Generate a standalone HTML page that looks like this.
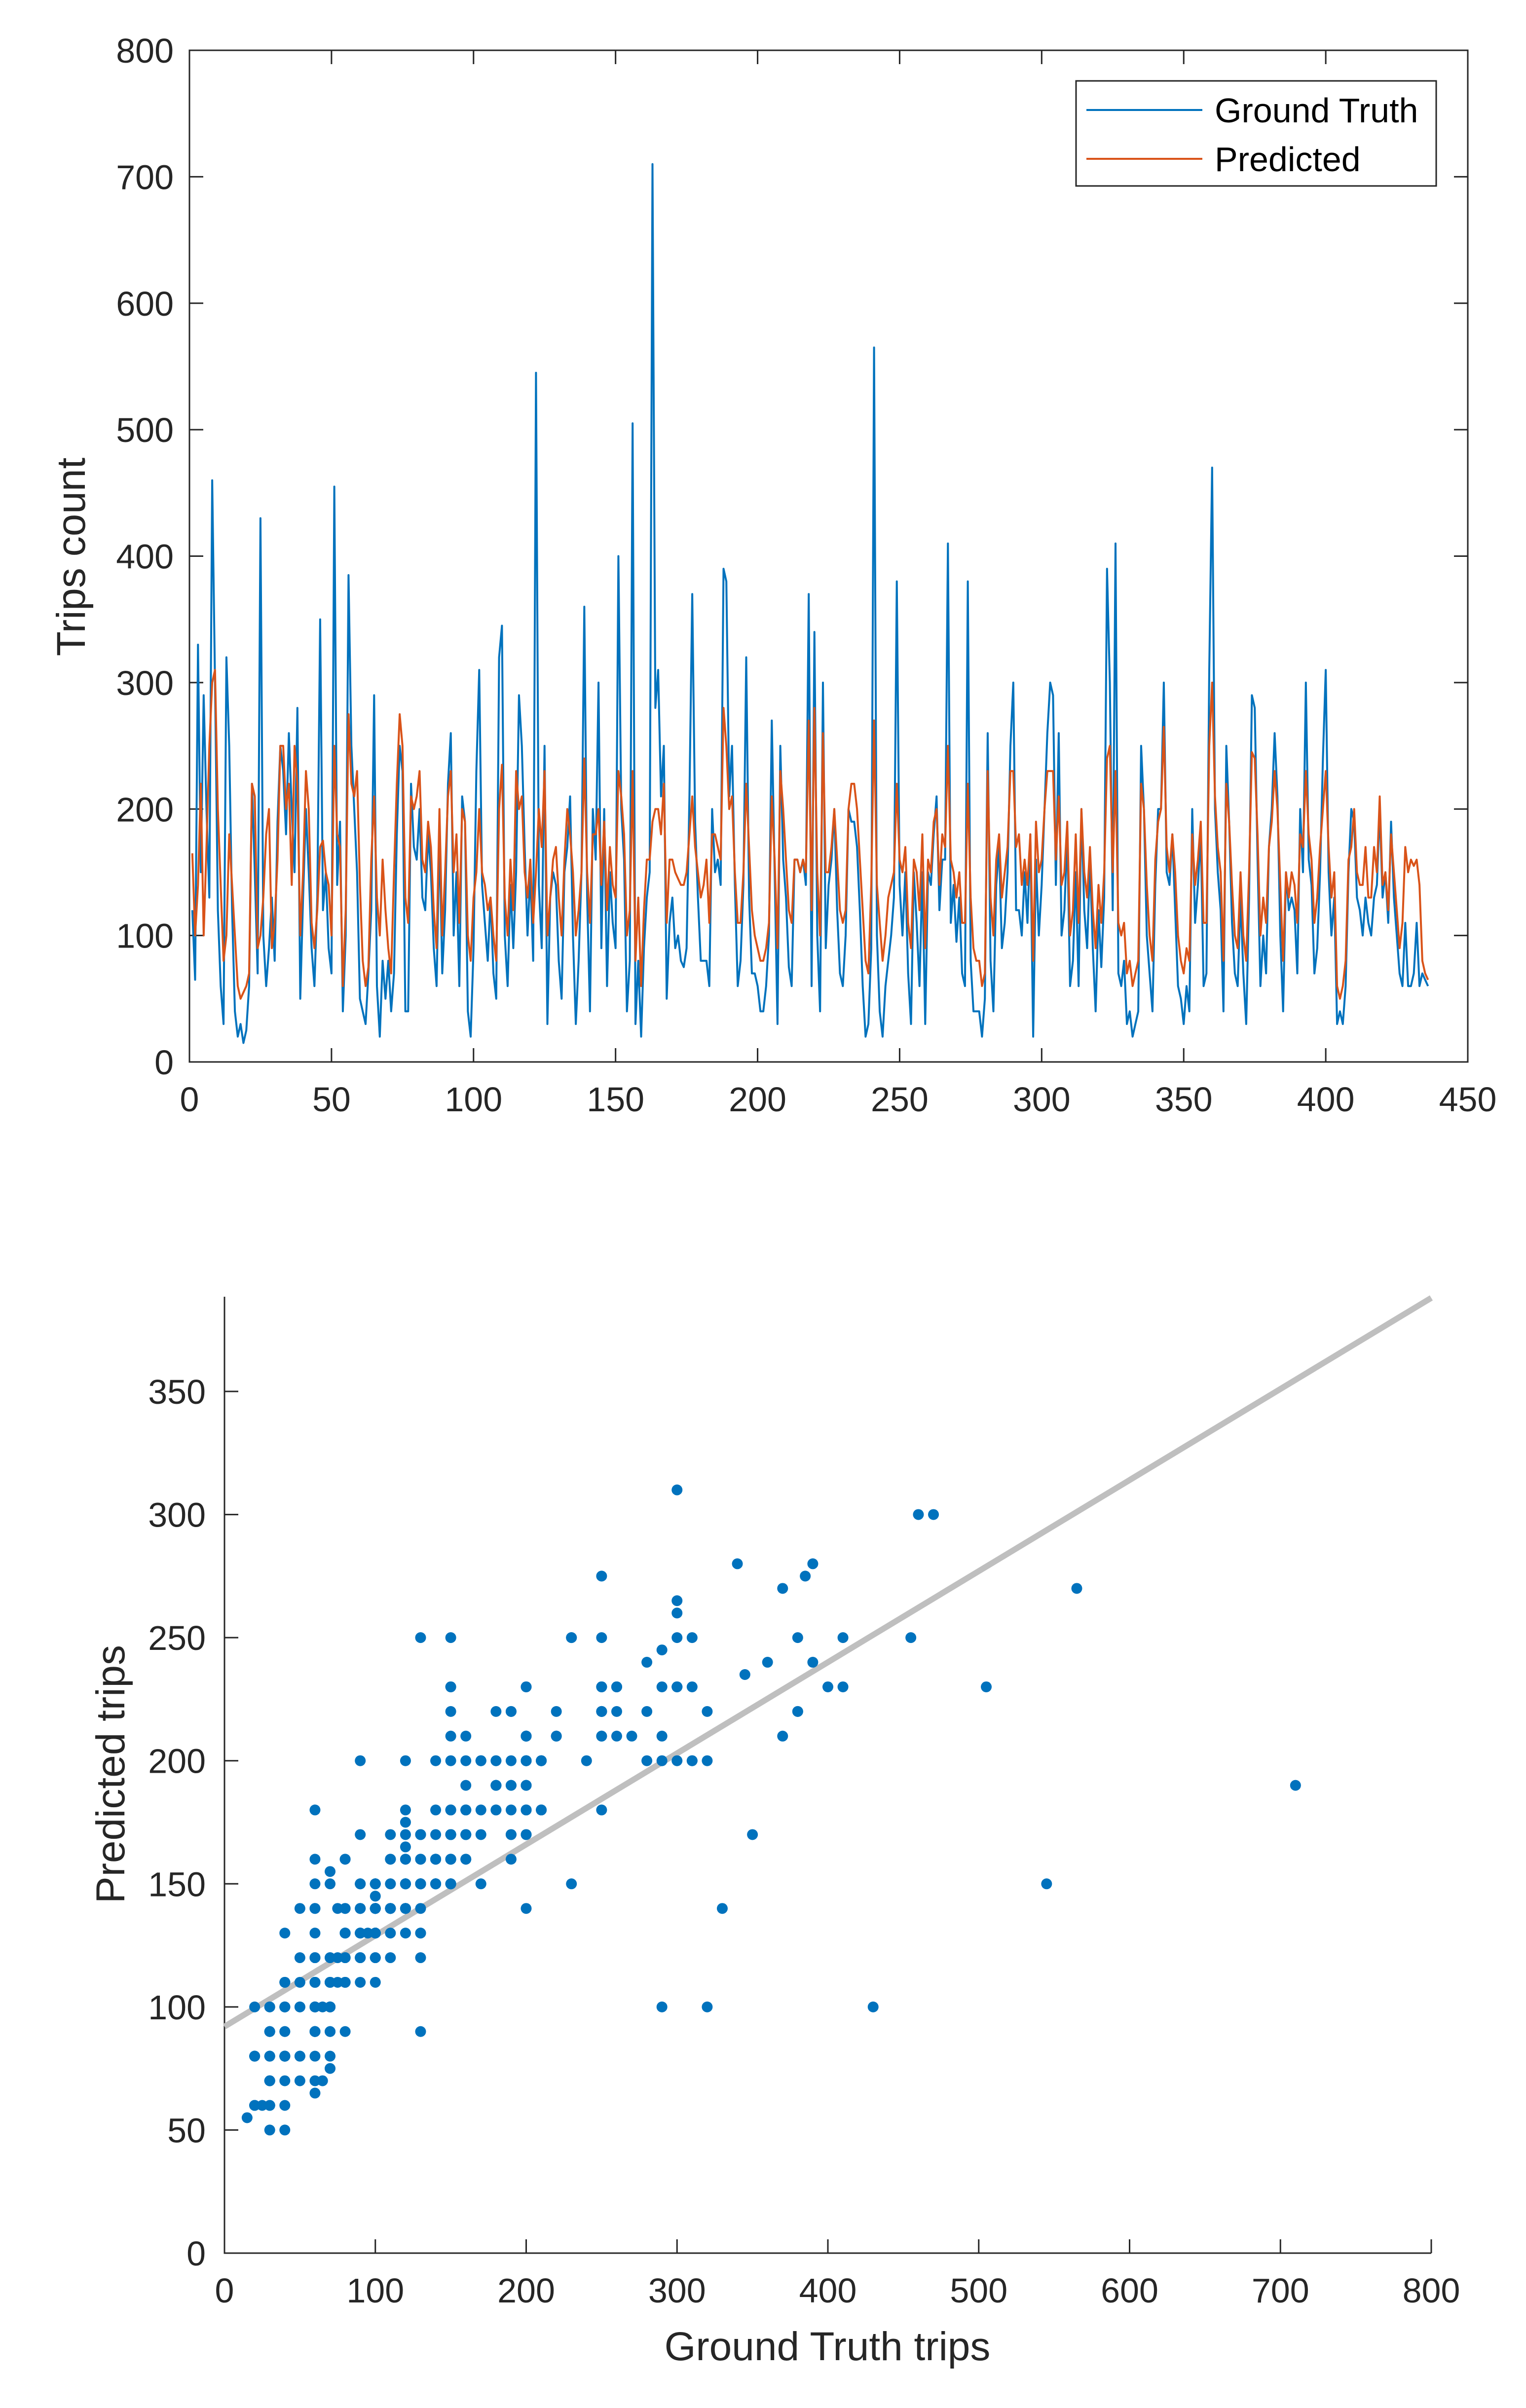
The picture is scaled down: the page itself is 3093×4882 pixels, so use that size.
<!DOCTYPE html>
<html><head><meta charset="utf-8"><style>
html,body{margin:0;padding:0;background:#fff;}
svg{display:block;font-family:"Liberation Sans",Arial,sans-serif;}
</style></head><body>
<svg id="c" width="3093" height="4882" viewBox="0 0 3093 4882" xmlns="http://www.w3.org/2000/svg"></svg>
<script>
const groundTruth=[120,65,330,150,290,200,130,460,300,120,60,30,320,250,120,40,20,30,15,25,60,220,150,70,430,100,60,90,130,80,190,250,230,180,260,200,150,280,50,130,200,150,90,60,130,350,120,150,90,70,455,140,190,40,100,385,250,200,150,50,40,30,70,120,290,60,20,80,50,80,40,70,180,250,230,40,40,220,170,160,200,130,120,180,150,90,60,180,70,120,220,260,100,150,60,210,190,40,20,90,230,310,140,110,80,130,70,50,320,345,100,60,140,90,150,290,250,170,100,150,80,545,140,90,250,30,130,150,140,80,50,150,170,210,100,30,80,150,360,130,40,200,160,300,90,200,60,150,110,90,400,200,160,40,80,505,30,80,20,90,130,150,710,280,310,210,250,50,110,130,90,100,80,75,90,210,370,190,130,80,80,80,60,200,150,160,140,390,380,210,250,140,60,80,140,320,130,70,70,60,40,40,60,100,270,150,30,250,160,130,75,60,160,160,150,160,140,370,60,340,100,40,300,90,140,160,200,120,70,60,100,200,190,190,170,120,60,20,30,90,565,100,40,20,60,80,100,130,380,140,100,150,70,30,150,110,60,150,30,150,140,180,210,120,160,160,410,110,140,95,130,70,60,380,80,40,40,40,20,50,260,80,40,140,170,90,110,150,250,300,120,120,100,150,110,180,20,160,100,140,200,260,300,290,140,260,100,120,180,60,80,150,60,200,120,90,160,90,40,120,75,130,390,300,120,410,70,60,80,30,40,20,30,40,250,200,100,70,40,140,200,200,300,150,140,180,120,60,50,30,60,40,200,110,140,180,60,70,310,470,200,150,120,40,250,190,110,70,60,130,70,30,130,290,280,160,60,100,70,170,200,260,210,100,40,150,120,130,120,70,200,150,300,160,140,70,90,150,240,310,150,100,130,30,40,30,60,150,200,190,130,120,100,130,110,100,130,140,200,130,150,110,190,130,100,70,60,110,60,60,70,110,60,70,65,60];
const predicted=[165,100,140,220,100,170,250,300,310,200,140,80,100,180,140,100,60,50,55,60,70,220,210,90,100,130,180,200,90,110,160,250,250,200,220,140,250,220,100,150,230,200,110,90,120,170,175,150,140,100,250,180,170,60,120,275,220,210,230,140,80,60,75,160,210,130,100,160,120,90,70,150,220,275,250,130,110,210,200,210,230,160,150,190,170,120,90,200,100,150,210,230,150,180,110,200,190,100,80,130,150,200,150,140,120,130,100,80,200,235,130,100,160,120,230,200,210,150,130,160,110,150,200,170,230,100,130,160,170,130,100,160,200,180,150,100,120,150,240,150,110,180,180,200,140,190,120,170,140,130,230,210,180,100,120,230,80,130,60,120,160,160,190,200,200,180,220,110,160,160,150,145,140,140,150,180,210,170,150,130,140,160,110,180,180,170,160,280,250,200,210,150,110,110,150,220,170,120,100,90,80,80,90,110,210,160,90,230,200,160,120,110,160,160,150,160,150,270,120,280,150,100,260,150,150,170,200,160,120,110,120,200,220,220,200,160,120,80,70,140,270,140,110,80,100,130,140,150,220,160,150,170,110,90,160,150,120,180,90,160,150,190,200,140,180,170,250,160,150,130,150,110,110,220,130,90,80,80,60,70,230,130,100,160,180,130,150,170,230,230,170,180,140,160,140,180,80,190,150,160,200,230,230,230,160,210,140,150,190,100,120,180,110,200,150,130,170,120,90,140,110,150,240,250,150,230,110,100,110,70,80,60,70,80,220,200,140,100,80,160,190,200,265,170,150,180,150,100,80,70,90,80,180,140,160,190,110,110,250,300,210,170,150,80,220,190,140,100,90,150,100,80,150,245,240,180,100,130,110,170,190,230,200,140,80,150,130,150,140,110,180,170,230,180,160,110,130,170,200,230,170,130,150,60,50,60,80,160,170,200,150,140,140,170,130,130,170,150,210,140,150,120,180,150,120,90,110,170,150,160,155,160,140,80,70,65];
const topXTicks=[0,50,100,150,200,250,300,350,400,450];
const topYTicks=[0,100,200,300,400,500,600,700,800];
const botXTicks=[0,100,200,300,400,500,600,700,800];
const botYTicks=[0,50,100,150,200,250,300,350];
const fitCoef=[92,0.37]; // intercept, slope
const fitRange=[0,800];

const NS="http://www.w3.org/2000/svg";
const svg=document.getElementById('c');
function mk(tag,attrs,parent){const e=document.createElementNS(NS,tag);for(const k in attrs)e.setAttribute(k,attrs[k]);(parent||svg).appendChild(e);return e;}
function txt(s,attrs){const e=mk('text',attrs);e.textContent=s;return e;}

// ---- top chart
const T={l:384,r:2975,t:102,b:2153};
const tx=v=>T.l+(v/450)*(T.r-T.l);
const ty=v=>T.b-(v/800)*(T.b-T.t);
const box=mk('rect',{x:T.l,y:T.t,width:T.r-T.l,height:T.b-T.t,fill:'none',stroke:'#262626','stroke-width':3});


topXTicks.forEach(v=>{
  mk('line',{x1:tx(v),x2:tx(v),y1:T.b,y2:T.b-28,stroke:'#262626','stroke-width':3});
  mk('line',{x1:tx(v),x2:tx(v),y1:T.t,y2:T.t+28,stroke:'#262626','stroke-width':3});
  const t=txt(v,{x:tx(v),y:T.b+100,'font-size':70,'text-anchor':'middle',fill:'#262626'});
  
  
});
topYTicks.forEach(v=>{
  mk('line',{x1:T.l,x2:T.l+28,y1:ty(v),y2:ty(v),stroke:'#262626','stroke-width':3});
  mk('line',{x1:T.r,x2:T.r-28,y1:ty(v),y2:ty(v),stroke:'#262626','stroke-width':3});
  const t=txt(v,{x:T.l-32,y:ty(v)+25,'font-size':70,'text-anchor':'end',fill:'#262626'});
  
  
});
const yl=txt('Trips count',{x:0,y:0,'font-size':82,'text-anchor':'middle',fill:'#262626',transform:'translate(172,1129) rotate(-90)'});


function series(arr,color,name){
  const d=arr.map((v,i)=>(i?'L':'M')+tx(i+1).toFixed(1)+' '+ty(v).toFixed(1)).join('');
  const p=mk('path',{d:d,fill:'none',stroke:color,'stroke-width':4,'stroke-linejoin':'round'});
  
  
}
series(groundTruth,'#0072BD','ground-truth-line');
series(predicted,'#D95319','predicted-line');
const lg=mk('rect',{x:2181,y:164,width:730,height:213,fill:'#fff',stroke:'#262626','stroke-width':3});


mk('line',{x1:2202,x2:2437,y1:223,y2:223,stroke:'#0072BD','stroke-width':4});
const l1=txt('Ground Truth',{x:2462,y:248,'font-size':70,fill:'#000'});


mk('line',{x1:2202,x2:2437,y1:322,y2:322,stroke:'#D95319','stroke-width':4});
const l2=txt('Predicted',{x:2462,y:347,'font-size':70,fill:'#000'});



// ---- bottom chart
const B={l:455,r:2901,b:4568,y350:2821,t:2629};
const bx=v=>B.l+(v/800)*(B.r-B.l);
const by=v=>B.b-(v/350)*(B.b-B.y350);
const ax=mk('path',{d:`M${B.l} ${B.t}L${B.l} ${B.b}L${B.r} ${B.b}`,fill:'none',stroke:'#262626','stroke-width':3});


botXTicks.forEach(v=>{
  mk('line',{x1:bx(v),x2:bx(v),y1:B.b,y2:B.b-28,stroke:'#262626','stroke-width':3});
  const t=txt(v,{x:bx(v),y:B.b+100,'font-size':70,'text-anchor':'middle',fill:'#262626'});
  
  
});
botYTicks.forEach(v=>{
  mk('line',{x1:B.l,x2:B.l+28,y1:by(v),y2:by(v),stroke:'#262626','stroke-width':3});
  const t=txt(v,{x:B.l-38,y:by(v)+25,'font-size':70,'text-anchor':'end',fill:'#262626'});
  
  
});
const xl2=txt('Ground Truth trips',{x:1677,y:4785,'font-size':82,'text-anchor':'middle',fill:'#262626'});


const yl2=txt('Predicted trips',{x:0,y:0,'font-size':82,'text-anchor':'middle',fill:'#262626',transform:'translate(252,3597) rotate(-90)'});


const fl=mk('line',{x1:bx(fitRange[0]),y1:by(fitCoef[0]+fitCoef[1]*fitRange[0]),x2:bx(fitRange[1]),y2:by(fitCoef[0]+fitCoef[1]*fitRange[1]),stroke:'#BFBFBF','stroke-width':12});


groundTruth.forEach((g,i)=>{
  const c=mk('circle',{cx:bx(g),cy:by(predicted[i]),r:11,fill:'#0072BD'});
  
  
});
</script>
</body></html>
